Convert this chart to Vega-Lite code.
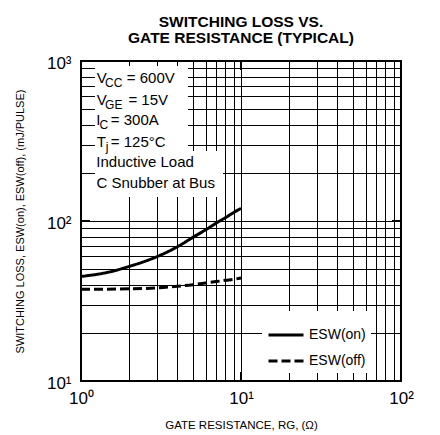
{
  "$schema": "https://vega.github.io/schema/vega-lite/v6.json",
  "width": 320,
  "height": 320,
  "autosize": {"type": "none"},
  "padding": {"left": 81, "top": 61, "right": 39, "bottom": 54},
  "background": "white",
  "title": {
    "text": ["SWITCHING LOSS VS.", "GATE RESISTANCE (TYPICAL)"],
    "font": "Liberation Sans",
    "fontSize": 15.5,
    "fontWeight": "bold",
    "color": "black",
    "anchor": "middle",
    "lineHeight": 16,
    "baseline": "bottom",
    "offset": -7
  },
  "layer": [
    {
      "data": {"values": [{}]},
      "mark": {"type": "rect", "fill": "white"},
      "encoding": {
        "x": {"datum": 1.223, "type": "quantitative"},
        "x2": {"datum": 4.665},
        "y": {"datum": 931, "type": "quantitative"},
        "y2": {"datum": 141.3}
      }
    },
    {
      "data": {"values": [{}]},
      "mark": {"type": "rect", "fill": "white"},
      "encoding": {
        "x": {"datum": 1.223, "type": "quantitative"},
        "x2": {"datum": 7.72},
        "y": {"datum": 273.8, "type": "quantitative"},
        "y2": {"datum": 141.3}
      }
    },
    {
      "data": {"values": [{}]},
      "mark": {"type": "rule", "color": "black", "strokeWidth": 2},
      "encoding": {"x": {"datum": 10, "type": "quantitative"}, "y": {"datum": 10, "type": "quantitative"}, "y2": {"datum": 11.38}}
    },
    {
      "data": {"values": [{}]},
      "mark": {"type": "rule", "color": "black", "strokeWidth": 2},
      "encoding": {"x": {"datum": 10, "type": "quantitative"}, "y": {"datum": 1000, "type": "quantitative"}, "y2": {"datum": 878}}
    },
    {
      "data": {"values": [{}]},
      "mark": {"type": "rule", "color": "black", "strokeWidth": 2},
      "encoding": {"y": {"datum": 100, "type": "quantitative"}, "x": {"datum": 1, "type": "quantitative"}, "x2": {"datum": 1.138}}
    },
    {
      "data": {"values": [{}]},
      "mark": {"type": "rule", "color": "black", "strokeWidth": 2},
      "encoding": {"y": {"datum": 100, "type": "quantitative"}, "x": {"datum": 100, "type": "quantitative"}, "x2": {"datum": 87.9}}
    },
    {
      "data": {
        "values": [
          {"rg": 1, "e": 45, "series": "ESW(on)"},
          {"rg": 1.5, "e": 48, "series": "ESW(on)"},
          {"rg": 2, "e": 52, "series": "ESW(on)"},
          {"rg": 3, "e": 60, "series": "ESW(on)"},
          {"rg": 4, "e": 69, "series": "ESW(on)"},
          {"rg": 5, "e": 79, "series": "ESW(on)"},
          {"rg": 6, "e": 88, "series": "ESW(on)"},
          {"rg": 7, "e": 97, "series": "ESW(on)"},
          {"rg": 8, "e": 105, "series": "ESW(on)"},
          {"rg": 9, "e": 113, "series": "ESW(on)"},
          {"rg": 10, "e": 120, "series": "ESW(on)"},
          {"rg": 1, "e": 37.4, "series": "ESW(off)"},
          {"rg": 2, "e": 37.7, "series": "ESW(off)"},
          {"rg": 3, "e": 38.2, "series": "ESW(off)"},
          {"rg": 4, "e": 39.1, "series": "ESW(off)"},
          {"rg": 5, "e": 40, "series": "ESW(off)"},
          {"rg": 6, "e": 41, "series": "ESW(off)"},
          {"rg": 7, "e": 41.8, "series": "ESW(off)"},
          {"rg": 8, "e": 42.6, "series": "ESW(off)"},
          {"rg": 9, "e": 43.2, "series": "ESW(off)"},
          {"rg": 10, "e": 44, "series": "ESW(off)"}
        ]
      },
      "mark": {"type": "line", "strokeWidth": 3, "color": "black", "interpolate": "monotone"},
      "encoding": {
        "x": {
          "field": "rg", "type": "quantitative",
          "scale": {"type": "log", "domain": [1, 100], "nice": false},
          "axis": {
            "title": "GATE RESISTANCE, RG, (Ω)",
            "values": [1, 2, 3, 4, 5, 6, 7, 8, 9, 10, 20, 30, 40, 50, 60, 70, 80, 90, 100],
            "labelExpr": "datum.value == 1 ? '10⁰' : datum.value == 10 ? '10¹' : datum.value == 100 ? '10²' : ''",
            "labelFlush": false,
            "labelOverlap": false,
            "grid": true, "gridColor": "black", "gridWidth": 1, "gridOpacity": 1,
            "domain": false,
            "ticks": false,
            "labelPadding": 9,
            "labelFontSize": 17,
            "titleFontSize": 11.5,
            "titleY": 47,
            "titleBaseline": "alphabetic"
          }
        },
        "y": {
          "field": "e", "type": "quantitative",
          "scale": {"type": "log", "domain": [10, 1000], "nice": false},
          "axis": {
            "title": "SWITCHING LOSS, ESW(on), ESW(off), (mJ/PULSE)",
            "values": [10, 20, 30, 40, 50, 60, 70, 80, 90, 100, 200, 300, 400, 500, 600, 700, 800, 900, 1000],
            "labelExpr": "datum.value == 10 ? '10¹' : datum.value == 100 ? '10²' : datum.value == 1000 ? '10³' : ''",
            "labelFlush": false,
            "labelOverlap": false,
            "grid": true, "gridColor": "black", "gridWidth": 1, "gridOpacity": 1,
            "domain": false,
            "ticks": false,
            "labelPadding": 10,
            "labelFontSize": 17,
            "labelOffset": 2,
            "titleFontSize": 11,
            "titleX": -61,
            "titleBaseline": "middle"
          }
        },
        "strokeDash": {
          "field": "series", "type": "nominal",
          "scale": {"domain": ["ESW(on)", "ESW(off)"], "range": [[1, 0], [9, 4]]},
          "legend": {
            "orient": "none", "legendX": 181, "legendY": 250,
            "title": null, "fillColor": "white", "padding": 5,
            "rowPadding": -1,
            "symbolType": "stroke", "symbolSize": 1225, "symbolStrokeWidth": 3,
            "symbolStrokeColor": "black",
            "labelFont": "Liberation Sans", "labelFontSize": 14, "labelColor": "black",
            "labelOffset": 4, "labelLimit": 0
          }
        }
      }
    },
    {"data": {"values": [{}]}, "mark": {"type": "text", "font": "Liberation Sans", "fontSize": 15, "align": "left", "baseline": "alphabetic", "fill": "black"},
     "encoding": {"x": {"datum": 1.2553, "type": "quantitative"}, "y": {"datum": 728.6, "type": "quantitative"}, "text": {"value": "V"}}},
    {"data": {"values": [{}]}, "mark": {"type": "text", "font": "Liberation Sans", "fontSize": 12, "align": "left", "baseline": "alphabetic", "fill": "black"},
     "encoding": {"x": {"datum": 1.4146, "type": "quantitative"}, "y": {"datum": 683, "type": "quantitative"}, "text": {"value": "CC"}}},
    {"data": {"values": [{}]}, "mark": {"type": "text", "font": "Liberation Sans", "fontSize": 15, "align": "left", "baseline": "alphabetic", "fill": "black"},
     "encoding": {"x": {"datum": 1.9327, "type": "quantitative"}, "y": {"datum": 728.6, "type": "quantitative"}, "text": {"value": "= 600V"}}},
    {"data": {"values": [{}]}, "mark": {"type": "text", "font": "Liberation Sans", "fontSize": 15, "align": "left", "baseline": "alphabetic", "fill": "black"},
     "encoding": {"x": {"datum": 1.2553, "type": "quantitative"}, "y": {"datum": 533.2, "type": "quantitative"}, "text": {"value": "V"}}},
    {"data": {"values": [{}]}, "mark": {"type": "text", "font": "Liberation Sans", "fontSize": 12, "align": "left", "baseline": "alphabetic", "fill": "black"},
     "encoding": {"x": {"datum": 1.4146, "type": "quantitative"}, "y": {"datum": 499.6, "type": "quantitative"}, "text": {"value": "GE"}}},
    {"data": {"values": [{}]}, "mark": {"type": "text", "font": "Liberation Sans", "fontSize": 15, "align": "left", "baseline": "alphabetic", "fill": "black"},
     "encoding": {"x": {"datum": 1.978, "type": "quantitative"}, "y": {"datum": 533.2, "type": "quantitative"}, "text": {"value": "= 15V"}}},
    {"data": {"values": [{}]}, "mark": {"type": "text", "font": "Liberation Sans", "fontSize": 15, "align": "left", "baseline": "alphabetic", "fill": "black"},
     "encoding": {"x": {"datum": 1.2462, "type": "quantitative"}, "y": {"datum": 398.1, "type": "quantitative"}, "text": {"value": "I"}}},
    {"data": {"values": [{}]}, "mark": {"type": "text", "font": "Liberation Sans", "fontSize": 12, "align": "left", "baseline": "alphabetic", "fill": "black"},
     "encoding": {"x": {"datum": 1.3069, "type": "quantitative"}, "y": {"datum": 373.2, "type": "quantitative"}, "text": {"value": "C"}}},
    {"data": {"values": [{}]}, "mark": {"type": "text", "font": "Liberation Sans", "fontSize": 15, "align": "left", "baseline": "alphabetic", "fill": "black"},
     "encoding": {"x": {"datum": 1.5355, "type": "quantitative"}, "y": {"datum": 398.1, "type": "quantitative"}, "text": {"value": "= 300A"}}},
    {"data": {"values": [{}]}, "mark": {"type": "text", "font": "Liberation Sans", "fontSize": 15, "align": "left", "baseline": "alphabetic", "fill": "black"},
     "encoding": {"x": {"datum": 1.2553, "type": "quantitative"}, "y": {"datum": 291.3, "type": "quantitative"}, "text": {"value": "T"}}},
    {"data": {"values": [{}]}, "mark": {"type": "text", "font": "Liberation Sans", "fontSize": 12, "align": "left", "baseline": "alphabetic", "fill": "black"},
     "encoding": {"x": {"datum": 1.4289, "type": "quantitative"}, "y": {"datum": 273.1, "type": "quantitative"}, "text": {"value": "j"}}},
    {"data": {"values": [{}]}, "mark": {"type": "text", "font": "Liberation Sans", "fontSize": 15, "align": "left", "baseline": "alphabetic", "fill": "black"},
     "encoding": {"x": {"datum": 1.5355, "type": "quantitative"}, "y": {"datum": 291.3, "type": "quantitative"}, "text": {"value": "= 125°C"}}},
    {"data": {"values": [{}]}, "mark": {"type": "text", "font": "Liberation Sans", "fontSize": 15, "align": "left", "baseline": "alphabetic", "fill": "black"},
     "encoding": {"x": {"datum": 1.2462, "type": "quantitative"}, "y": {"datum": 216.6, "type": "quantitative"}, "text": {"value": "Inductive Load"}}},
    {"data": {"values": [{}]}, "mark": {"type": "text", "font": "Liberation Sans", "fontSize": 15, "align": "left", "baseline": "alphabetic", "fill": "black"},
     "encoding": {"x": {"datum": 1.2497, "type": "quantitative"}, "y": {"datum": 160.1, "type": "quantitative"}, "text": {"value": "C Snubber at Bus"}}}
  ],
  "config": {
    "font": "Liberation Sans",
    "axis": {"labelFont": "Liberation Sans", "titleFont": "Liberation Sans", "labelColor": "black", "titleColor": "black", "titleFontWeight": "normal"},
    "view": {"stroke": "black", "strokeWidth": 2}
  }
}
